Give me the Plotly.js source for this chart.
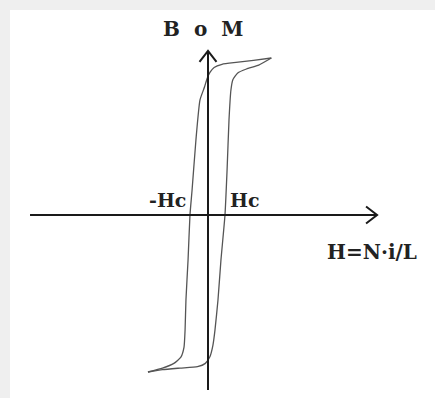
<!DOCTYPE html>
<html>
<head>
<meta charset="utf-8">
<script src="https://cdn.plot.ly/plotly-3.0.1.min.js"></script>
<style>
  html, body { margin: 0; padding: 0; background: #efefef; }
  #loop { width: 435px; height: 398px; }
</style>
</head>
<body>
<div id="loop"></div>
<script>
// Hysteresis loop, H in units of the coercive field, B in units of saturation.
// Descending branch: from +saturation down to -saturation (left side of the loop).
const hDescending = [3.62, 2.60, 1.60, 0.80, 0.35, 0.12, -0.05, -0.20, -0.46, -0.69, -0.91, -1.03, -1.14, -1.26, -1.31, -1.37, -1.55, -1.95, -2.60, -3.43];
const bDescending = [1.00, 0.985, 0.972, 0.960, 0.940, 0.910, 0.870, 0.815, 0.732, 0.478, 0.159, 0.0, -0.287, -0.541, -0.732, -0.841, -0.905, -0.945, -0.975, -1.00];
// Ascending branch: from -saturation back up to +saturation (right side).
const hAscending = [-3.43, -2.60, -1.60, -0.60, -0.15, 0.10, 0.28, 0.40, 0.57, 0.74, 0.97, 1.09, 1.20, 1.31, 1.42, 1.70, 2.20, 2.90, 3.62];
const bAscending = [-1.00, -0.985, -0.975, -0.966, -0.945, -0.905, -0.830, -0.732, -0.541, -0.287, 0.0, 0.287, 0.605, 0.796, 0.862, 0.905, 0.930, 0.955, 1.00];

// Drawn extent of the two coordinate axes (arrow tips at the second value).
const hAxisSpan = [-10.17, 9.66];
const bAxisSpan = [-1.115, 1.045];

// Coercive field crossings and their labels.
const coerciveH = [-1.03, 0.97];
const coerciveLabels = ['-Hc', 'Hc'];
const hAxisLabel = 'H=N\u00b7i/L';
const bAxisLabel = 'B\u2002\u2009o\u2002\u2009M';

const loopColor = '#555555';
const axisColor = '#1a1a1a';
const serif = '"DejaVu Serif", "Liberation Serif", serif';
const labelFont = { family: serif, size: 19, color: '#222222', weight: 'bold' };
const axisLabelFont = { family: serif, size: 20, color: '#222222', weight: 'bold' };

const traces = [
  { x: hDescending, y: bDescending, mode: 'lines', line: { color: loopColor, width: 1.3, shape: 'spline', smoothing: 0.5 }, hoverinfo: 'skip' },
  { x: hAscending, y: bAscending, mode: 'lines', line: { color: loopColor, width: 1.3, shape: 'spline', smoothing: 0.5 }, hoverinfo: 'skip' },
  { x: hAxisSpan, y: [0, 0], mode: 'lines', line: { color: axisColor, width: 2 }, hoverinfo: 'skip' },
  { x: [0, 0], y: bAxisSpan, mode: 'lines', line: { color: axisColor, width: 2 }, hoverinfo: 'skip' }
];

// Open chevron arrowheads, sized in pixels around each axis tip.
const head = 11, half = 8.5;
const shapes = [
  { type: 'path', xref: 'x', yref: 'y', xsizemode: 'pixel', ysizemode: 'pixel',
    xanchor: hAxisSpan[1], yanchor: 0,
    path: `M ${-head},${half} L 0,0 L ${-head},${-half}`,
    line: { color: axisColor, width: 2 } },
  { type: 'path', xref: 'x', yref: 'y', xsizemode: 'pixel', ysizemode: 'pixel',
    xanchor: 0, yanchor: bAxisSpan[1],
    path: `M ${-half},${-head} L 0,0 L ${half},${-head}`,
    line: { color: axisColor, width: 2 } }
];

const annotations = [
  { x: coerciveH[0], y: 0, xref: 'x', yref: 'y', text: coerciveLabels[0], showarrow: false,
    xanchor: 'right', yanchor: 'bottom', xshift: -2, yshift: 2, font: labelFont },
  { x: coerciveH[1], y: 0, xref: 'x', yref: 'y', text: coerciveLabels[1], showarrow: false,
    xanchor: 'left', yanchor: 'bottom', xshift: 3, yshift: 2, font: labelFont },
  { x: 6.69, y: -0.235, xref: 'x', yref: 'y', text: hAxisLabel, showarrow: false,
    xanchor: 'left', yanchor: 'middle', font: axisLabelFont },
  { x: -0.29, y: 1.185, xref: 'x', yref: 'y', text: bAxisLabel, showarrow: false,
    xanchor: 'center', yanchor: 'middle', font: axisLabelFont }
];

const layout = {
  width: 435, height: 398,
  margin: { l: 10, r: 0, t: 10, b: 0, pad: 0 },
  paper_bgcolor: '#efefef',
  plot_bgcolor: '#ffffff',
  showlegend: false,
  xaxis: { range: [-11.314, 12.971], visible: false, showgrid: false, zeroline: false, fixedrange: true },
  yaxis: { range: [-1.1656, 1.3057], visible: false, showgrid: false, zeroline: false, fixedrange: true },
  shapes: shapes,
  annotations: annotations
};

Plotly.newPlot('loop', traces, layout, { staticPlot: true, displayModeBar: false });
</script>
</body>
</html>
